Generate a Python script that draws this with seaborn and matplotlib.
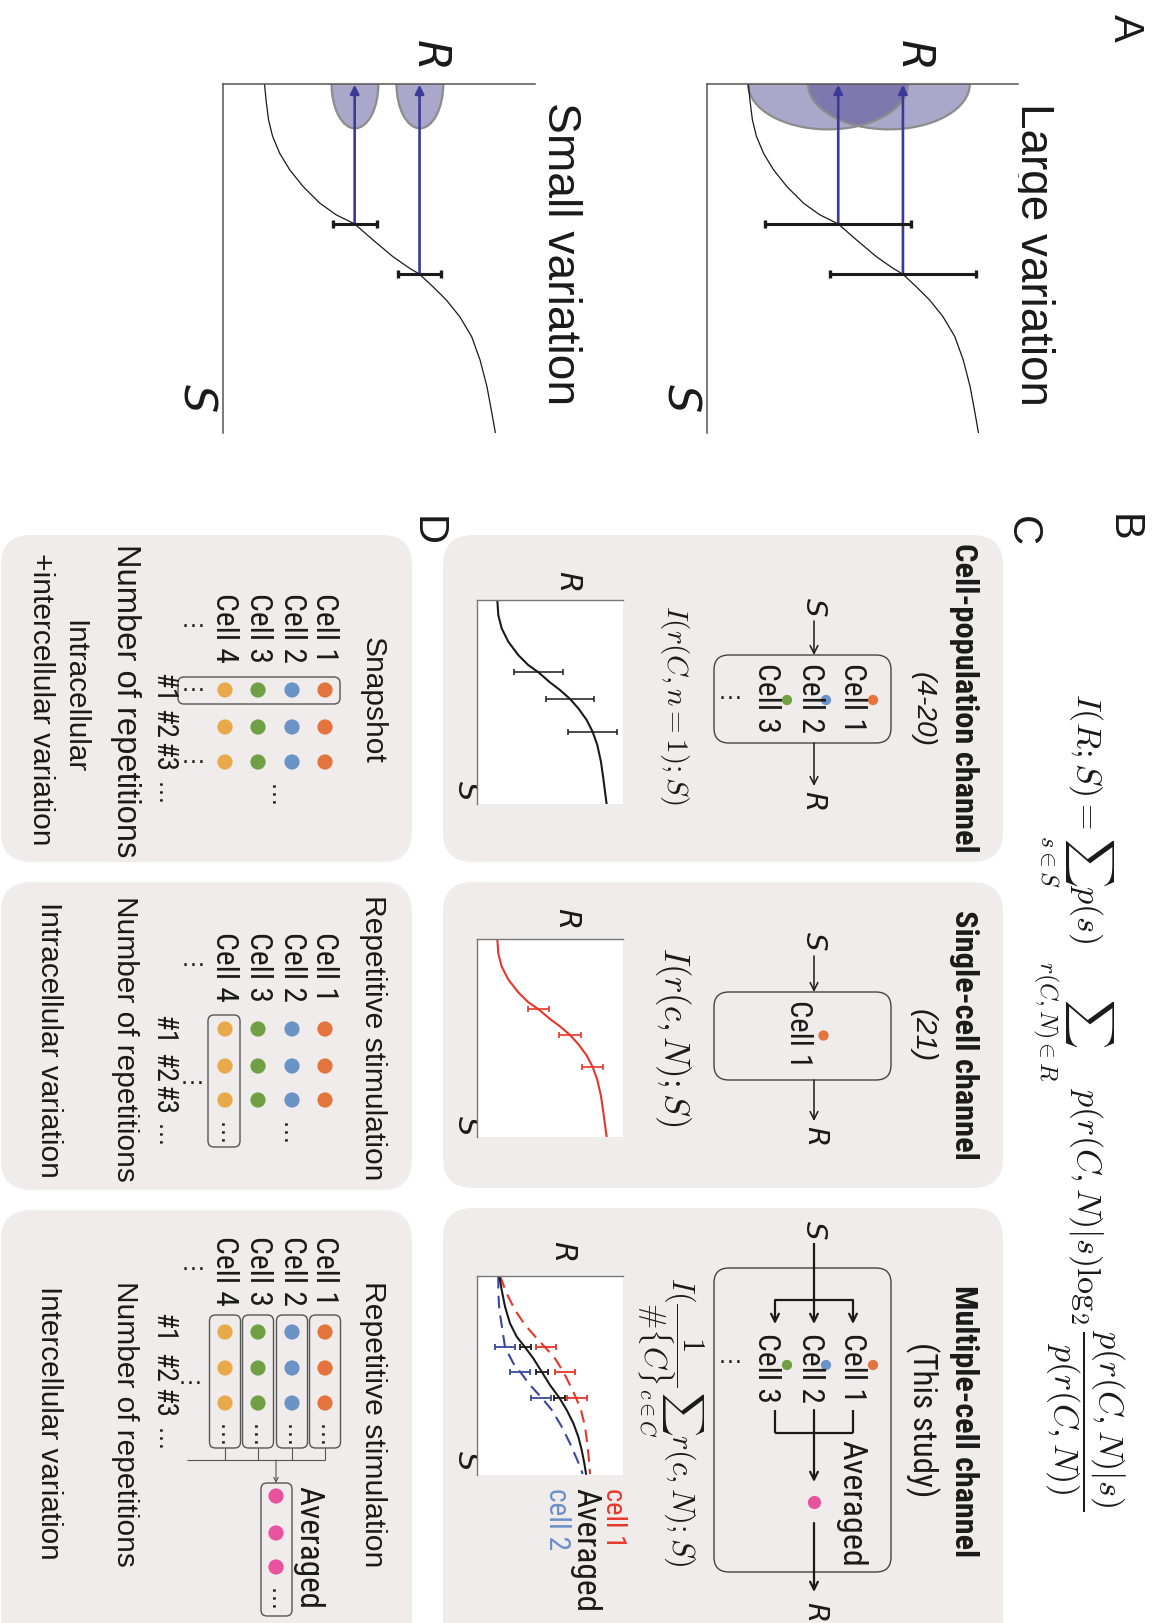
import matplotlib
matplotlib.use('Agg')
import matplotlib.pyplot as plt
import seaborn as sns
from matplotlib.patches import FancyBboxPatch, Ellipse
from matplotlib import font_manager as fm

# ---------------- data (axis units 0-10) ----------------
# Panel A: dose-response curve R(S)
A_S = [0.0, 0.46, 1.03, 1.50, 1.99, 2.46, 2.94, 3.42, 3.75, 4.01, 4.47, 4.95, 5.28, 5.45,
       5.81, 6.19, 6.67, 7.24, 7.91, 8.67, 9.44, 10.0]
A_R = [1.33, 1.38, 1.46, 1.59, 1.82, 2.14, 2.57, 3.11, 3.63, 4.22, 4.81, 5.45, 5.98, 6.30,
       6.73, 7.16, 7.59, 7.97, 8.24, 8.46, 8.62, 8.73]
A_ERR_S = [4.01, 5.45]
A_ERR_R = [4.22, 6.30]
A_LARGE_HW = 2.35
A_SMALL_HW = 0.70
A_LARGE_DIST_R = [3.89, 5.85]
A_LARGE_DIST_HW = [2.57, 2.60]
A_LARGE_DIST_DEPTH = 1.30
A_SMALL_DIST_R = [4.23, 6.31]
A_SMALL_DIST_HW = [0.75, 0.75]
A_SMALL_DIST_DEPTH = 1.27

# Panel C: population / single-cell curve
C_S = [0.0, 0.74, 1.39, 2.04, 2.70, 3.19, 3.54, 4.04, 4.41, 4.85, 5.31, 5.88, 6.46, 7.11,
       7.93, 8.74, 9.40, 10.0]
C_R = [1.39, 1.46, 1.69, 2.14, 2.83, 3.51, 4.20, 5.00, 5.68, 6.37, 6.94, 7.51, 7.92, 8.24,
       8.49, 8.65, 8.77, 8.88]
C_ERR_S = [3.54, 4.85, 6.46]
C_ERR_R = [4.22, 6.37, 7.92]
C_POP_HW = 1.67
C_SINGLE_HW = 0.73

# Panel C: multiple-cell curves
M_AVG_S = [0.0, 0.70, 1.54, 2.38, 3.05, 3.58, 4.14, 4.81, 5.48, 6.12, 6.73, 7.40, 8.08, 8.74, 9.41, 9.95]
M_AVG_R = [1.53, 1.69, 1.92, 2.26, 2.72, 3.29, 3.86, 4.43, 5.00, 5.64, 6.14, 6.60, 6.94, 7.17, 7.35, 7.47]
M_CELL1_S = [0.0, 0.87, 1.71, 2.46, 3.13, 3.58, 4.14, 4.81, 5.48, 6.12, 6.73, 7.57, 8.41, 9.25, 9.95]
M_CELL1_R = [1.58, 2.03, 2.60, 3.29, 4.09, 4.66, 5.34, 5.91, 6.37, 6.78, 7.12, 7.40, 7.55, 7.67, 7.74]
M_CELL2_S = [0.0, 0.87, 1.71, 2.46, 3.58, 4.39, 4.81, 5.48, 6.12, 6.73, 7.57, 8.41, 9.25, 9.95]
M_CELL2_R = [1.46, 1.46, 1.53, 1.69, 1.92, 2.49, 2.95, 3.63, 4.43, 5.12, 5.80, 6.37, 6.87, 7.24]
M_ERR_S = [3.58, 4.81, 6.12]
M_AVG_ERR_R = [3.33, 4.47, 5.66]
M_CELL1_ERR_R = [4.73, 6.05, 6.87]
M_CELL2_ERR_R = [1.92, 2.92, 4.40]
M_AVG_HW = 0.40
M_CELL1_HW = 0.68
M_CELL2_HW = 0.68

CELL_LABELS = ['Cell 1', 'Cell 2', 'Cell 3', 'Cell 4']
REP_LABELS = ['#1', '#2', '#3']
CELL_COLORS = ['#E4733D', '#6B93C6', '#6FA044', '#E8A94A']
AVG_COLOR = '#E8529F'
RED = '#E8352A'
DBLUE = '#3B46A0'

# ---------------- setup ----------------
sns.set_theme(style='white')
plt.rcParams['font.family'] = ['Liberation Sans', 'DejaVu Sans']
plt.rcParams['mathtext.fontset'] = 'cm'

names = {f.name for f in fm.fontManager.ttflist}


def find_condensed():
    for nm in ['Liberation Sans Narrow', 'Arial Narrow', 'Nimbus Sans Narrow', 'Roboto Condensed',
               'Noto Sans Condensed', 'Open Sans Condensed', 'Noto Sans SemiCondensed',
               'DejaVu Sans Condensed']:
        if nm in names:
            return {'family': nm}, {'family': nm, 'weight': 'bold'}
    bad = ['italic', 'oblique', 'light', 'thin', 'medium', 'black', 'semibold', 'extrabold',
           'semicondensed', 'extracondensed', 'ultracondensed']
    regs, bolds = [], []
    prio = ['liberationsansnarrow', 'robotocondensed', 'notosans-condensed', 'opensans-condensed',
            'dejavusanscondensed', 'condensed', 'narrow']
    for f in fm.fontManager.ttflist:
        fn = f.fname.lower().replace('_', '').replace(' ', '')
        base = fn.split('/')[-1]
        if not ('condensed' in base or 'narrow' in base):
            continue
        if any(b in base for b in bad):
            continue
        rank = next((i for i, p in enumerate(prio) if p in base), len(prio))
        if 'bold' in base:
            bolds.append((rank, f.fname))
        else:
            regs.append((rank, f.fname))
    if regs:
        regs.sort()
        r = regs[0][1]
        b = sorted(bolds)[0][1] if bolds else None
        rk = {'fontproperties': fm.FontProperties(fname=r)}
        bk = {'fontproperties': fm.FontProperties(fname=b)} if b else {'family': ['Liberation Sans'], 'weight': 'bold'}
        return rk, bk
    return {'family': ['Liberation Sans', 'DejaVu Sans']}, {'family': ['Liberation Sans', 'DejaVu Sans'], 'weight': 'bold'}


NARROW, NARROW_B = find_condensed()

W, H = 1157, 1623
fig = plt.figure(figsize=(W / 100, H / 100), dpi=100)
bg = fig.add_axes([0, 0, 1, 1])
bg.set_xlim(0, W)
bg.set_ylim(H, 0)
bg.axis('off')
RENDERER = fig.canvas.get_renderer()

INK = '#1a1a1a'
BOXC = '#F0ECEB'


def T(x, y, s, size, L=None, fk=None, **kw):
    kw.setdefault('ha', 'center')
    kw.setdefault('va', 'center')
    kw.setdefault('color', INK)
    if fk:
        kw.update(fk)
    t = bg.text(x, y, s, fontsize=size, rotation=-90, zorder=5, **kw)
    if L is not None:
        bb = t.get_window_extent(renderer=RENDERER)
        if bb.height > 0:
            f = min(max(L / bb.height, 0.6), 1.6)
            t.set_fontsize(size * f)
    return t


def TM(x, y, letter, size, **kw):  # italic sans letter
    return T(x, y, r'$\mathit{' + letter + '}$', size, math_fontfamily='dejavusans', **kw)


def rbox(x0, y0, x1, y1, r, fc='none', ec='none', lw=0.0, z=1):
    p = FancyBboxPatch((x0 + r, y0 + r), x1 - x0 - 2 * r, y1 - y0 - 2 * r,
                       boxstyle=f'round,pad={r}', fc=fc, ec=ec, lw=lw, zorder=z)
    bg.add_patch(p)


def arrow(x0, y0, x1, y1, lw=1.1, color=INK, ms=14, style='->'):
    bg.annotate('', xy=(x1, y1), xytext=(x0, y0),
                arrowprops=dict(arrowstyle=style, lw=lw, color=color,
                                mutation_scale=ms, shrinkA=0, shrinkB=0), zorder=3)


def line(xs, ys, lw=1.1, color=INK):
    bg.plot(xs, ys, color=color, lw=lw, solid_capstyle='butt', zorder=3)


def dots(xs, ys, colors, size):
    bg.scatter(xs, ys, s=size, c=colors, linewidths=0, zorder=4)


def hdots(x, y, size=18):  # dots running across the picture
    bg.text(x, y, '…', fontsize=size, ha='center', va='center', color=INK, zorder=4)


def vdots(x, y, size=18):  # dots running down the picture
    bg.text(x, y, '…', fontsize=size, ha='center', va='center', rotation=-90, color=INK, zorder=4)


def sub(x0, y0, x1, y1, spine_c='#777777', spine_lw=1.0):
    ax = fig.add_axes([x0 / W, 1 - y1 / H, (x1 - x0) / W, (y1 - y0) / H])
    ax.set_facecolor('white')
    for k in ['right', 'bottom']:
        ax.spines[k].set_visible(False)
    for k in ['left', 'top']:
        ax.spines[k].set_visible(True)
        ax.spines[k].set_color(spine_c)
        ax.spines[k].set_linewidth(spine_lw)
    return ax


def finish(ax):
    ax.set_xlim(0, 10)
    ax.set_ylim(10, 0)
    ax.set_xticks([])
    ax.set_yticks([])
    ax.set_xlabel('')
    ax.set_ylabel('')
    ax.grid(False)


def curve(ax, R, S, color, lw, ls='-'):
    sns.lineplot(x=R, y=S, ax=ax, color=color, linewidth=lw, linestyle=ls,
                 sort=False, estimator=None, orient='y', legend=False)


# ---------------- panel A ----------------
for (x0, x1, hw, dR, dHW, dD, title, tx) in [
        (707, 1018, A_LARGE_HW, A_LARGE_DIST_R, A_LARGE_DIST_HW, A_LARGE_DIST_DEPTH, 'Large variation', 1033),
        (223, 535, A_SMALL_HW, A_SMALL_DIST_R, A_SMALL_DIST_HW, A_SMALL_DIST_DEPTH, 'Small variation', 560)]:
    ax = sub(x0, 84, x1, 433, spine_c='#555555', spine_lw=1.1)
    for c, w in zip(dR, dHW):
        ax.add_patch(Ellipse((c, 0), 2 * w, 2 * dD, fc='#4b4690', alpha=0.47, ec='none', zorder=1))
        ax.add_patch(Ellipse((c, 0), 2 * w, 2 * dD, fc='none', ec='#8c8c8c', lw=1.6, zorder=1.5))
    curve(ax, A_R, A_S, INK, 0.9)
    for r, s in zip(A_ERR_R, A_ERR_S):
        ax.annotate('', xy=(r, 0.02), xytext=(r, s),
                    arrowprops=dict(arrowstyle='-|>', color='#3a3a99', lw=1.9,
                                    mutation_scale=13, shrinkA=0, shrinkB=0), zorder=3)
    ax.errorbar(A_ERR_R, A_ERR_S, xerr=hw, fmt='none', ecolor=INK, elinewidth=2.2,
                capsize=2.9, capthick=2.4, zorder=4)
    finish(ax)
    T(tx, 254, title, 31, L=302)
    TM(x0 + 206, 52, 'R', 32)
    TM(x0 - 27, 397, 'S', 32)

T(1125, 28, 'A', 30)
T(1123, 528, 'B', 30)
T(1022, 531, 'C', 30)
T(427, 531, 'D', 30)

# ---------------- panel B ----------------
T(1078, 1102,
  r'$I(R;S)=\sum_{s\in S}p(s)\;\;\sum_{r(C,N)\in R}\;p(r(C,N)|s)\log_2\dfrac{p(r(C,N)|s)}{p(r(C,N))}$',
  22, L=818)

# ---------------- panel C ----------------
rbox(443, 535, 1003, 862, 30, fc=BOXC, z=0)
rbox(443, 882, 1003, 1188, 30, fc=BOXC, z=0)
rbox(443, 1208, 1003, 1660, 30, fc=BOXC, z=0)

T(964, 698, 'Cell-population channel', 23, L=310, fk=NARROW_B)
T(923, 709, '(4-20)', 22, L=75, style='italic')
T(964, 1035, 'Single-cell channel', 23, L=250, fk=NARROW_B)
T(923, 1036, '(21)', 22, L=53, style='italic')
T(964, 1421, 'Multiple-cell channel', 23, L=273, fk=NARROW_B)
T(922, 1420, '(This study)', 22, L=155, fk=NARROW)

cx3 = [853, 811, 766]
dx3 = [873, 826, 787]
# box 1 diagram
TM(814, 607, 'S', 21)
arrow(814, 621, 814, 655)
rbox(714, 655, 891, 743, 15, ec='#444444', lw=1.0, z=2)
for x, lab in zip(cx3, CELL_LABELS[:3]):
    T(x, 698, lab, 22, L=70, fk=NARROW)
dots(dx3, [700, 700, 700], CELL_COLORS[:3], 55)
hdots(730, 692)
arrow(814, 743, 814, 786)
TM(814, 800, 'R', 21)

# box 2 diagram
TM(814, 941, 'S', 21)
arrow(814, 956, 814, 992)
rbox(714, 992, 891, 1080, 15, ec='#444444', lw=1.0, z=2)
T(799, 1034, CELL_LABELS[0], 22, L=68, fk=NARROW)
dots([823], [1035], CELL_COLORS[:1], 55)
arrow(814, 1080, 814, 1121)
TM(816, 1135, 'R', 21)

# box 3 diagram
TM(814, 1230, 'S', 21)
rbox(714, 1268, 891, 1572, 15, ec='#444444', lw=1.0, z=2)
line([814, 814], [1243, 1300], lw=1.6)
arrow(814, 1298, 814, 1324, lw=1.6)
line([775, 853], [1300, 1300], lw=1.6)
arrow(853, 1300, 853, 1324, lw=1.6)
arrow(775, 1300, 775, 1324, lw=1.6)
for x, lab in zip(cx3, CELL_LABELS[:3]):
    T(x, 1368, lab, 22, L=70, fk=NARROW)
dots(dx3, [1365, 1365, 1365], CELL_COLORS[:3], 55)
hdots(730, 1356)
line([853, 853], [1410, 1433], lw=1.6)
line([775, 775], [1410, 1433], lw=1.6)
line([775, 853], [1433, 1433], lw=1.6)
arrow(814, 1410, 814, 1482, lw=1.6)
T(851, 1503, 'Averaged', 22, L=127, fk=NARROW)
dots([814], [1502], [AVG_COLOR], 90)
arrow(814, 1523, 814, 1592, lw=1.6)
TM(816, 1611, 'R', 21)

# formulas
T(675, 705, r'$I(r(C,n=1);S)$', 20, L=200)
T(673, 1037, r'$I(r(c,N);S)$', 20, L=180)
T(670, 1422, r'$I(\dfrac{1}{\#\{C\}}\sum_{c\in C}r(c,N);S)$', 20, L=290)

# plots in C
ax = sub(477, 600, 623, 804)
curve(ax, C_R, C_S, INK, 1.5)
ax.errorbar(C_ERR_R, C_ERR_S, xerr=C_POP_HW, fmt='none', ecolor=INK, elinewidth=1.1,
            capsize=2.5, capthick=1.1, zorder=4)
finish(ax)
TM(568, 580, 'R', 22)
TM(466, 790, 'S', 22)

ax = sub(477, 939, 623, 1137)
curve(ax, C_R, C_S, RED, 1.5)
ax.errorbar(C_ERR_R, C_ERR_S, xerr=C_SINGLE_HW, fmt='none', ecolor=RED, elinewidth=1.2,
            capsize=2.5, capthick=1.2, zorder=4)
finish(ax)
TM(567, 917, 'R', 22)
TM(466, 1125, 'S', 22)

ax = sub(477, 1276, 623, 1475)
curve(ax, M_CELL1_R, M_CELL1_S, RED, 1.5, ls=(0, (6, 3.5)))
curve(ax, M_CELL2_R, M_CELL2_S, DBLUE, 1.5, ls=(0, (6, 3.5)))
curve(ax, M_AVG_R, M_AVG_S, INK, 1.5)
ax.errorbar(M_CELL1_ERR_R, M_ERR_S, xerr=M_CELL1_HW, fmt='none', ecolor=RED, elinewidth=1.3,
            capsize=2.4, capthick=1.3, zorder=4)
ax.errorbar(M_CELL2_ERR_R, M_ERR_S, xerr=M_CELL2_HW, fmt='none', ecolor=DBLUE, elinewidth=1.3,
            capsize=2.4, capthick=1.3, zorder=4)
ax.errorbar(M_AVG_ERR_R, M_ERR_S, xerr=M_AVG_HW, fmt='none', ecolor=INK, elinewidth=1.3,
            capsize=2.4, capthick=1.3, zorder=4)
finish(ax)
TM(563, 1250, 'R', 22)
TM(466, 1460, 'S', 22)
T(613, 1488, 'cell 1', 21, L=60, fk=NARROW, va='top', color=RED)
T(585, 1488, 'Averaged', 21, L=124, fk=NARROW, va='top')
T(557, 1488, 'cell 2', 21, L=62, fk=NARROW, va='top', color='#6B8FC8')

# ---------------- panel D ----------------
rbox(1, 535, 412, 862, 30, fc=BOXC, z=0)
rbox(1, 882, 412, 1190, 30, fc=BOXC, z=0)
rbox(1, 1210, 412, 1660, 30, fc=BOXC, z=0)

cxD = [325, 292, 258, 225]
row_specs = [  # (title, title_y, title_len, label_y, rep_ys, hash_ys, num_y, num_len)
    ('Snapshot', 700, 126, 628, [690, 727, 762], [688, 724, 757], 701, 312),
    ('Repetitive stimulation', 1038, 284, 967, [1029, 1066, 1100], [1030, 1068, 1100], 1039, 284),
    ('Repetitive stimulation', 1424, 285, 1271, [1332, 1368, 1403], [1328, 1368, 1403], 1424, 285),
]
for (title, ty, tl, ly, rys, hys, ny, nl) in row_specs:
    T(373, ty, title, 22, L=tl)
    for x, lab in zip(cxD, CELL_LABELS):
        T(x, ly, lab, 22, L=70, fk=NARROW)
    hdots(193, ly - 8)
    xs, ys, cs = [], [], []
    for ry in rys:
        for x, c in zip(cxD, CELL_COLORS):
            xs.append(x); ys.append(ry); cs.append(c)
    dots(xs, ys, cs, 120)
    for hy, lab in zip(hys, REP_LABELS):
        T(163, hy, lab, 22, L=30, fk=NARROW)
    vdots(163, hys[-1] + 37)
    T(125, ny, 'Number of repetitions', 22, L=nl)

# D1 extras
rbox(178, 677, 340, 704, 6, ec='#555555', lw=1.0, z=2)
hdots(193, 684)
hdots(193, 756)
vdots(276, 797)
T(74, 697, 'Intracellular', 22, L=153)
T(41, 699, '+intercellular variation', 22, L=292)

# D2 extras
rbox(208, 1015, 240, 1147, 6, ec='#555555', lw=1.0, z=2)
vdots(225, 1134)
vdots(288, 1134)
hdots(192, 1077)
T(49, 1040, 'Intracellular variation', 22, L=275)

# D3 extras
for x in cxD:
    rbox(x - 15.5, 1315, x + 15.5, 1448, 6, ec='#555555', lw=1.0, z=2)
    vdots(x, 1437)
    line([x, x], [1448, 1460], lw=0.8, color='#555555')
line([187, 325], [1460, 1460], lw=0.8, color='#555555')
arrow(276, 1460, 276, 1483, lw=0.8, color='#555555', ms=8)
rbox(261, 1483, 292, 1616, 6, ec='#555555', lw=1.0, z=2)
dots([276, 276, 276], [1496, 1533, 1567], [AVG_COLOR] * 3, 120)
vdots(276, 1600)
hdots(190, 1377)
T(308, 1547, 'Averaged', 22, L=123, fk=NARROW)
T(49, 1423, 'Intercellular variation', 22, L=273)

bg.set_xlim(0, W)
bg.set_ylim(H, 0)
fig.savefig('out.png', dpi=100)
